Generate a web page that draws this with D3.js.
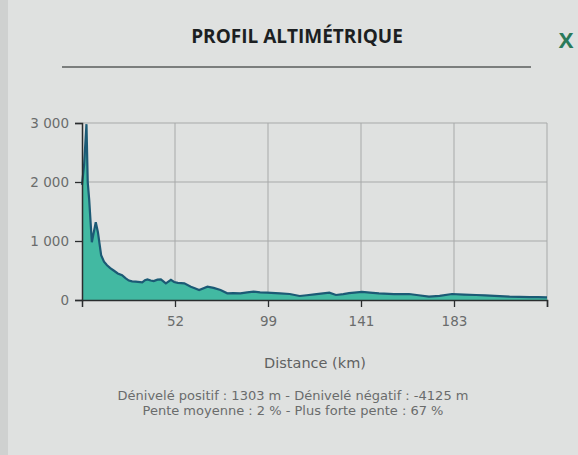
<!DOCTYPE html>
<html><head><meta charset="utf-8">
<script src="https://cdn.jsdelivr.net/npm/d3@7"></script>
<style>html,body{margin:0;padding:0;background:#dfe1e0;}svg{display:block;}</style>
</head><body>
<script>
const distanceKm = [0,1.2,2.5,3.2,4.0,5.5,6.6,7.7,8.9,10.7,12.3,14.0,15.8,17.7,20.0,22.4,24.3,26.2,28.0,30.0,33.7,35.2,36.6,38.4,40.1,42.2,44.1,46.9,49.7,51.5,53.4,56.7,60.0,62.0,64.2,68.4,71.5,75.0,78.4,81.5,85.0,88.5,91.7,95.0,98.4,104.4,108.8,113.3,116.5,120.0,126.7,129.7,133.0,135.6,141.5,145.0,149.1,155.9,162.7,167.0,171.7,176.5,182.1,187.5,193.0,197.0,201.3,208.1,212.5,217.2,221.0,225.0];
const elevationM = [1950,2300,2980,2000,1710,980,1150,1320,1150,760,650,590,540,500,450,420,370,330,315,310,300,335,350,330,320,345,350,283,340,305,290,283,225,200,170,225,205,170,113,118,113,130,141,130,125,113,102,68,80,95,124,85,100,115,136,125,113,100,102,80,56,70,102,92,85,78,70,56,52,50,48,45];
const yTicks = [0,1000,2000,3000];
const xTickKm = [52,99,141,183];
const xBreaksKm = [0,52,99,141,183,225];
const titleText = "PROFIL ALTIMÉTRIQUE";
const xAxisTitle = "Distance (km)";
const statsLines = ["Dénivelé positif : 1303 m - Dénivelé négatif : -4125 m","Pente moyenne : 2 % - Plus forte pente : 67 %"];

const W=578,H=455;
const m={left:82,right:547,top:123,bottom:300};
const svg=d3.select("body").append("svg").attr("width",W).attr("height",H);
svg.append("rect").attr("width",W).attr("height",H).attr("fill","#dfe1e0");
svg.append("rect").attr("x",0).attr("y",0).attr("width",8).attr("height",H).attr("fill","#cfd1d0");

// header
svg.append("text").attr("x",297).attr("y",43).attr("text-anchor","middle")
  .attr("font-family","Open Sans, sans-serif").attr("font-weight",700).attr("font-size",19)
  .attr("fill","#1c1f22").text(titleText);
svg.append("text").attr("x",566).attr("y",48).attr("text-anchor","middle")
  .attr("font-family","Open Sans, sans-serif").attr("font-weight",700).attr("font-size",22).attr("fill","#2a7a5a").text("X");
svg.append("line").attr("x1",62).attr("x2",531).attr("y1",67).attr("y2",67)
  .attr("stroke","#5a5c5c").attr("stroke-width",1.3);

const n=xBreaksKm.length-1;
const x=d3.scaleLinear().domain(xBreaksKm)
  .range(xBreaksKm.map((d,i)=>m.left+(m.right-m.left)*i/n));
const y=d3.scaleLinear().domain([0,3000]).range([m.bottom,m.top]);

// grid
const g=svg.append("g");
g.selectAll(".hg").data(yTicks.filter(d=>d>0)).join("line")
  .attr("x1",m.left).attr("x2",m.right).attr("y1",d=>y(d)).attr("y2",d=>y(d))
  .attr("stroke","#a7a9a9").attr("stroke-width",1);
g.selectAll(".vg").data(xTickKm.concat([xBreaksKm[n]])).join("line")
  .attr("x1",d=>x(d)).attr("x2",d=>x(d)).attr("y1",m.top).attr("y2",m.bottom)
  .attr("stroke","#a7a9a9").attr("stroke-width",1);

const pts=distanceKm.map((d,i)=>[d,elevationM[i]]);
svg.append("path").datum(pts)
  .attr("d",d3.area().x(d=>x(d[0])).y0(y(0)).y1(d=>y(d[1])))
  .attr("fill","#42b9a2");
svg.append("path").datum(pts)
  .attr("d",d3.line().x(d=>x(d[0])).y(d=>y(d[1])))
  .attr("fill","none").attr("stroke","#1b5a75").attr("stroke-width",2.2);

// axes
const ya=svg.append("g").attr("transform",`translate(${m.left},0)`)
  .call(d3.axisLeft(y).tickValues(yTicks).tickSize(7).tickPadding(6)
    .tickFormat(d=>d3.format(",")(d).replace(",","\u00a0")));
const xa=svg.append("g").attr("transform",`translate(0,${m.bottom})`)
  .call(d3.axisBottom(x).tickValues(xTickKm.concat([xBreaksKm[n]])).tickSize(7).tickPadding(9)
    .tickFormat(d=>xTickKm.includes(d)?String(d):""));
[ya,xa].forEach(a=>{
  a.select(".domain").attr("stroke","#2a2d2e").attr("stroke-width",1.5);
  a.selectAll(".tick line").attr("stroke","#2a2d2e").attr("stroke-width",1.3);
  a.selectAll("text").attr("font-family","DejaVu Sans, sans-serif").attr("font-size",13.5).attr("fill","#6a6c6c");
});

svg.append("text").attr("x",315).attr("y",368).attr("text-anchor","middle")
  .attr("font-family","DejaVu Sans, sans-serif").attr("font-size",14.5).attr("fill","#5f6262").text(xAxisTitle);
svg.selectAll(".st").data(statsLines).join("text")
  .attr("x",293).attr("y",(d,i)=>400+i*15).attr("text-anchor","middle")
  .attr("font-family","DejaVu Sans, sans-serif").attr("font-size",13).attr("fill","#6a6c6c").text(d=>d);
</script>
</body></html>
